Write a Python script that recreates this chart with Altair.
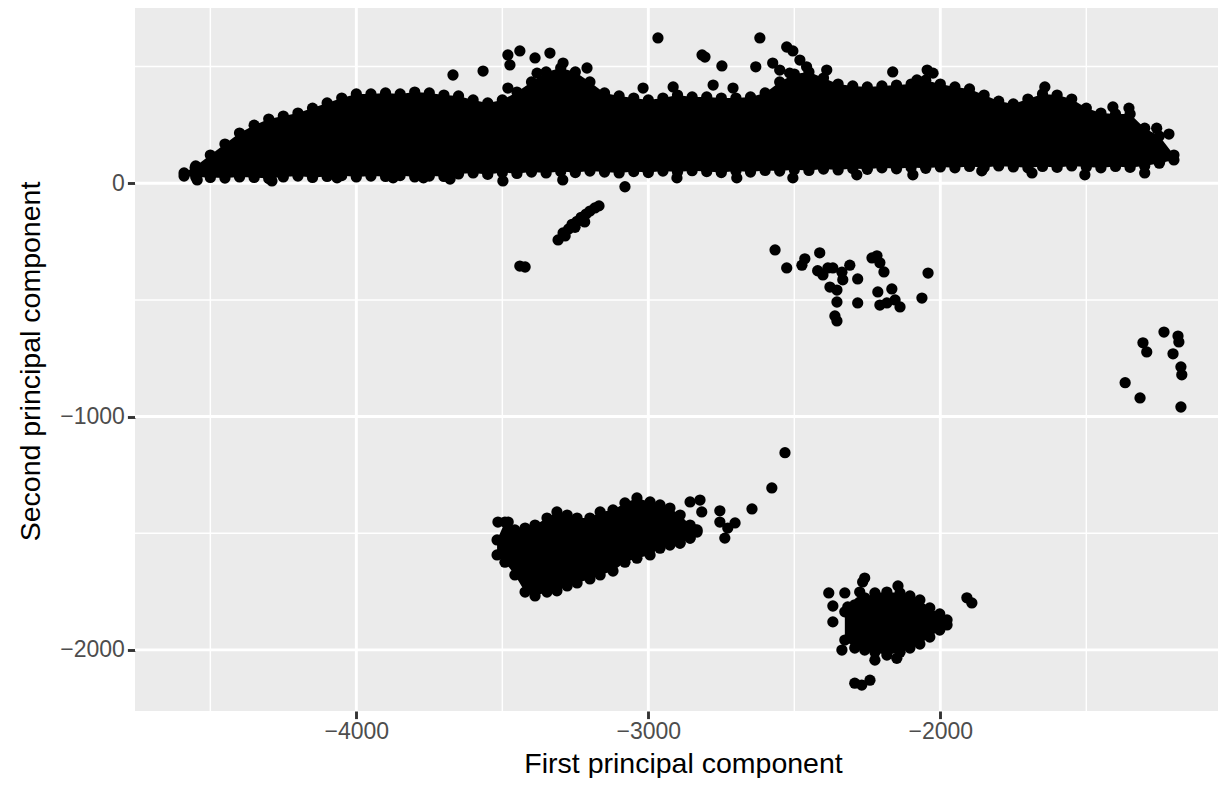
import altair as alt
import pandas as pd

# ---------------- axis / grid values ----------------
x_major = [-4000, -3000, -2000]
x_minor = [-4500, -3500, -2500, -1500]
y_major = [-2000, -1000, 0]
y_minor = [-1500, -500, 500]

# ---------------- main dense band (upper cluster) ----------------
band_x = [-4590, -4550, -4500, -4450, -4400, -4350, -4300, -4250, -4200, -4150,
          -4100, -4050, -4000, -3950, -3900, -3850, -3800, -3750, -3700, -3650,
          -3600, -3550, -3500, -3450, -3400, -3350, -3300, -3250, -3200, -3150,
          -3100, -3050, -3000, -2950, -2900, -2850, -2800, -2750, -2700, -2650,
          -2600, -2550, -2500, -2450, -2400, -2350, -2300, -2250, -2200, -2150,
          -2100, -2050, -2000, -1950, -1900, -1850, -1800, -1750, -1700, -1650,
          -1600, -1550, -1500, -1450, -1400, -1350, -1300, -1250, -1200]
band_top = [44, 74, 121, 168, 215, 249, 275, 288, 301, 322,
            344, 365, 383, 383, 387, 383, 391, 387, 378, 374,
            357, 344, 357, 391, 434, 477, 494, 477, 434, 387,
            374, 365, 357, 365, 378, 370, 370, 365, 365, 370,
            387, 434, 468, 477, 451, 425, 417, 413, 417, 421,
            425, 442, 425, 413, 404, 378, 352, 340, 361, 383,
            378, 361, 322, 301, 297, 297, 236, 202, 121]
band_bot = [31, 27, 25, 22, 27, 25, 20, 27, 31, 25,
            29, 33, 27, 31, 29, 33, 27, 31, 29, 40,
            44, 38, 46, 42, 48, 44, 50, 46, 52, 48,
            44, 50, 46, 52, 48, 54, 50, 46, 52, 48,
            55, 52, 58, 55, 61, 57, 63, 60, 66, 62,
            68, 64, 70, 66, 72, 68, 74, 70, 66, 72,
            68, 74, 70, 66, 72, 68, 74, 86, 100]

# scattered points above / below the band
up_x = [-3669, -3566, -3481, -3440, -3474, -3388, -3337, -3381, -3378, -3292,
        -3326, -3210, -2967, -2816, -2806, -2748, -2618, -2632, -2526, -2505,
        -2481, -2574, -2550, -2516, -2458, -2437, -2389, -2163, -3018, -2915,
        -2778, -2710, -3481, -2045, -2025, -2080, -1642, -1409, -1354, -1259,
        -1217, -4552]
up_y = [464, 481, 550, 567, 507, 537, 558, 472, 421, 515,
        456, 494, 623, 550, 541, 503, 623, 499, 584, 567,
        528, 515, 485, 472, 499, 443, 485, 477, 408, 413,
        421, 408, 408, 485, 472, 443, 413, 327, 322, 236,
        211, 66]
dip_x = [-4545, -4289, -4066, -3874, -3770, -3679, -3498, -3293, -3080, -2902,
         -2697, -2505, -2286, -2094, -1858, -1686, -1505, -1300, -1248]
dip_y = [14, 10, 23, 23, 23, 18, 10, 14, -15, 23,
         23, 23, 36, 36, 53, 44, 36, 44, 95]

# small diagonal streak and isolated pair below the band
streak_x = [-3309, -3292, -3273, -3261, -3244, -3230, -3213, -3200, -3183, -3169,
            -3251, -3285, -3218, -3440, -3422]
streak_y = [-243, -213, -196, -176, -163, -146, -132, -119, -106, -97,
            -189, -226, -166, -355, -359]

# cluster around (-2300, -400)
mid_x = [-2566, -2526, -2474, -2464, -2413, -2420, -2402, -2368, -2310, -2337,
         -2378, -2354, -2334, -2283, -2354, -2283, -2361, -2354, -2234, -2217,
         -2207, -2193, -2214, -2166, -2207, -2183, -2155, -2138, -2063, -2042,
         -2385]
mid_y = [-286, -363, -351, -324, -298, -375, -393, -363, -351, -381,
         -445, -458, -414, -410, -509, -513, -569, -590, -320, -311,
         -341, -380, -466, -453, -522, -513, -500, -530, -492, -385,
         -363]

# far right cluster
right_x = [-1234, -1186, -1183, -1306, -1293, -1203, -1176, -1173, -1367, -1316, -1176]
right_y = [-638, -655, -680, -684, -723, -731, -787, -821, -855, -920, -959]

# lower left cluster (dense part)
ll_x = [-3518, -3491, -3457, -3422, -3388, -3347, -3313, -3278, -3244, -3200,
        -3165, -3121, -3080, -3039, -2994, -2960, -2926, -2891, -2857, -2833]
ll_top = [-1529, -1452, -1486, -1478, -1465, -1435, -1409, -1422, -1435, -1435,
          -1409, -1400, -1370, -1349, -1366, -1379, -1392, -1422, -1465, -1486]
ll_bot = [-1593, -1624, -1679, -1752, -1769, -1752, -1747, -1726, -1713, -1696,
          -1679, -1662, -1624, -1607, -1593, -1564, -1551, -1542, -1521, -1495]
# lower left cluster trailing points
llx_pts = [-2532, -2577, -2645, -2703, -2728, -2738, -2755, -2755, -2817, -2823,
           -2857, -2840, -2892, -2857, -3515, -3480]
lly_pts = [-1155, -1306, -1396, -1456, -1478, -1521, -1452, -1404, -1409, -1358,
           -1366, -1486, -1542, -1521, -1452, -1452]

# lower right cluster (dense part)
lr_x = [-2327, -2293, -2259, -2224, -2183, -2138, -2104, -2070, -2036, -2002, -1977]
lr_top = [-1837, -1807, -1777, -1756, -1752, -1756, -1769, -1786, -1820, -1846, -1872]
lr_bot = [-1958, -1992, -2001, -2010, -2022, -2010, -1992, -1975, -1945, -1915, -1893]
lrx_pts = [-2382, -2327, -2368, -2317, -2368, -2259, -2266, -2276, -2145, -2276,
           -2337, -2224, -2149, -2293, -2241, -2269, -1909, -1892]
lry_pts = [-1756, -1756, -1812, -1816, -1880, -1692, -1709, -1752, -1726, -1795,
           -2001, -2044, -2036, -2143, -2130, -2151, -1777, -1799]

# ---------------- build tables ----------------
pts = pd.DataFrame({
    "x": band_x + band_x + up_x + dip_x + streak_x + mid_x + right_x
         + ll_x + ll_x + llx_pts + lr_x + lr_x + lrx_pts,
    "y": band_top + band_bot + up_y + dip_y + streak_y + mid_y + right_y
         + ll_top + ll_bot + lly_pts + lr_top + lr_bot + lry_pts,
})
band = pd.DataFrame({"x": band_x, "top": band_top, "bot": band_bot})
ll = pd.DataFrame({"x": ll_x, "top": ll_top, "bot": ll_bot})
lr = pd.DataFrame({"x": lr_x, "top": lr_top, "bot": lr_bot})

XMIN, XMAX = -4758, -1049
YMIN, YMAX = -2262, 764
xs = alt.Scale(domain=[XMIN, XMAX], nice=False, zero=False)
ys = alt.Scale(domain=[YMIN, YMAX], nice=False, zero=False)

xaxis = alt.Axis(values=x_major, format="d", title="First principal component",
                 grid=False, domain=False, titleX=548, titleY=61,
                 titleBaseline="alphabetic", titleAlign="center", labelPadding=2)
yaxis = alt.Axis(values=y_major, format="d", title="Second principal component",
                 grid=False, domain=False, titleX=-96, titleY=356, titleAngle=270,
                 titleBaseline="alphabetic", titleAlign="center", labelPadding=3)


def X(field):
    return alt.X(field, scale=xs, axis=xaxis)


def Y(field):
    return alt.Y(field, scale=ys, axis=yaxis)


vminor = alt.Chart(pd.DataFrame({"v": x_minor})).mark_rule(
    color="white", strokeWidth=1.45).encode(x=X("v:Q"))
hminor = alt.Chart(pd.DataFrame({"v": y_minor})).mark_rule(
    color="white", strokeWidth=1.45).encode(y=Y("v:Q"))
vmajor = alt.Chart(pd.DataFrame({"v": x_major})).mark_rule(
    color="white", strokeWidth=2.9).encode(x=X("v:Q"))
hmajor = alt.Chart(pd.DataFrame({"v": y_major})).mark_rule(
    color="white", strokeWidth=2.9).encode(y=Y("v:Q"))


def blob(df):
    return alt.Chart(df).mark_area(color="black", opacity=1, clip=True).encode(
        x=X("x:Q"), y=Y("top:Q"), y2="bot:Q",
    )


dots = alt.Chart(pts).mark_circle(size=127, color="black", opacity=1, clip=True).encode(
    x=X("x:Q"), y=Y("y:Q"),
)

chart = alt.layer(
    vminor, hminor, vmajor, hmajor, blob(band), blob(ll), blob(lr), dots
).properties(
    width=1083, height=706,
    padding={"left": 127, "top": -3, "right": 0, "bottom": 67},
    autosize=alt.AutoSizeParams(type="none"),
).configure_view(
    fill="#EBEBEB", strokeWidth=0
).configure_axis(
    labelFont="Liberation Sans", labelFontSize=23, labelColor="#4D4D4D",
    tickColor="#333333", tickWidth=2.9, tickSize=7.6,
    titleFont="Liberation Sans", titleFontSize=28.5, titleFontWeight="normal",
    titleColor="black",
)

chart.save("out.html", embed_options={"renderer": "svg", "actions": False})
